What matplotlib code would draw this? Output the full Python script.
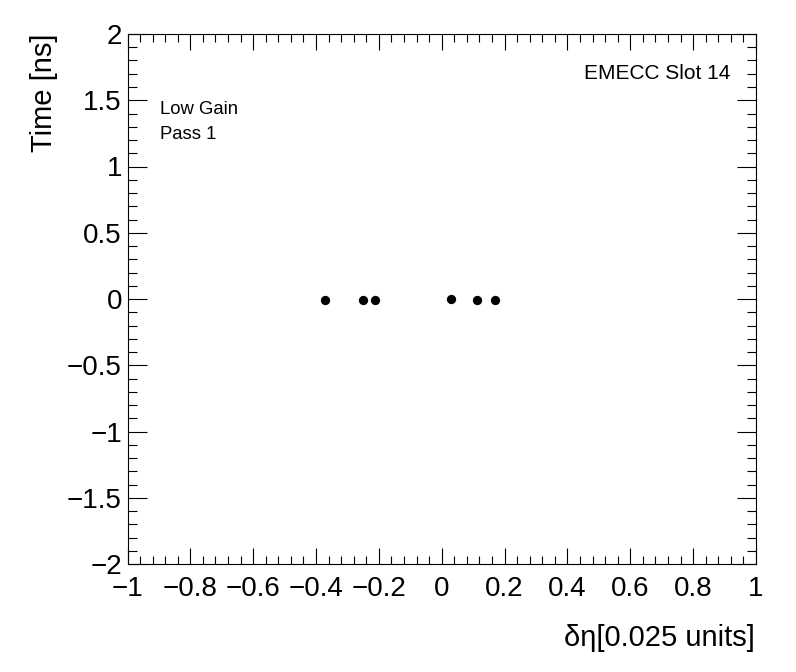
import matplotlib
matplotlib.use("Agg")
import matplotlib.pyplot as plt
from matplotlib.ticker import MultipleLocator

# Data
delta_eta = [-0.372, -0.250, -0.212, 0.029, 0.111, 0.169]
time_ns = [-0.005, -0.005, -0.005, 0.003, -0.005, -0.005]

x_label = "δη[0.025 units]"
y_label = "Time [ns]"
slot_text = "EMECC Slot 14"
gain_text = "Low Gain"
pass_text = "Pass 1"

plt.rcParams['font.family'] = ['Liberation Sans', 'DejaVu Sans']

W, H = 796, 672
fig = plt.figure(figsize=(W / 100, H / 100), dpi=100)
ax = fig.add_axes([127.5 / W, 1 - 564 / H, (756 - 127.5) / W, (564 - 34) / H])

ax.plot(delta_eta, time_ns, 'o', color='black', markersize=6.7, markeredgewidth=0)

ax.set_xlim(-1, 1)
ax.set_ylim(-2, 2)
ax.xaxis.set_major_locator(MultipleLocator(0.2))
ax.xaxis.set_minor_locator(MultipleLocator(0.04))
ax.yaxis.set_major_locator(MultipleLocator(0.5))
ax.yaxis.set_minor_locator(MultipleLocator(0.1))

ax.tick_params(axis='both', which='both', direction='in', top=True, right=True,
               width=0.8, colors='black', labelsize=20)
ax.tick_params(axis='x', which='major', length=11.5, pad=9)
ax.tick_params(axis='x', which='minor', length=5.8)
ax.tick_params(axis='y', which='major', length=13.7, pad=4)
ax.tick_params(axis='y', which='minor', length=6.8)

def fmt(v):
    if abs(v) < 1e-9:
        return "0"
    s = ("%g" % v)
    return s.replace("-", "\u2212")

ax.set_xticks([round(-1 + 0.2 * i, 1) for i in range(11)])
ax.set_xticklabels([fmt(round(-1 + 0.2 * i, 1)) for i in range(11)])
ax.set_yticks([-2 + 0.5 * i for i in range(9)])
ax.set_yticklabels([fmt(-2 + 0.5 * i) for i in range(9)])

for sp in ax.spines.values():
    sp.set_linewidth(0.8)

fig.text(755 / W, 1 - 646 / H, x_label, ha='right', va='baseline', fontsize=21)
fig.text(52 / W, 1 - 33 / H, y_label, rotation=90, rotation_mode='anchor',
         ha='right', va='baseline', fontsize=21)

fig.text(730 / W, 1 - 79 / H, slot_text, ha='right', va='baseline', fontsize=15)
fig.text(160 / W, 1 - 114 / H, gain_text, ha='left', va='baseline', fontsize=13.3)
fig.text(160 / W, 1 - 139 / H, pass_text, ha='left', va='baseline', fontsize=13.3)

fig.savefig("out.png", dpi=100)
